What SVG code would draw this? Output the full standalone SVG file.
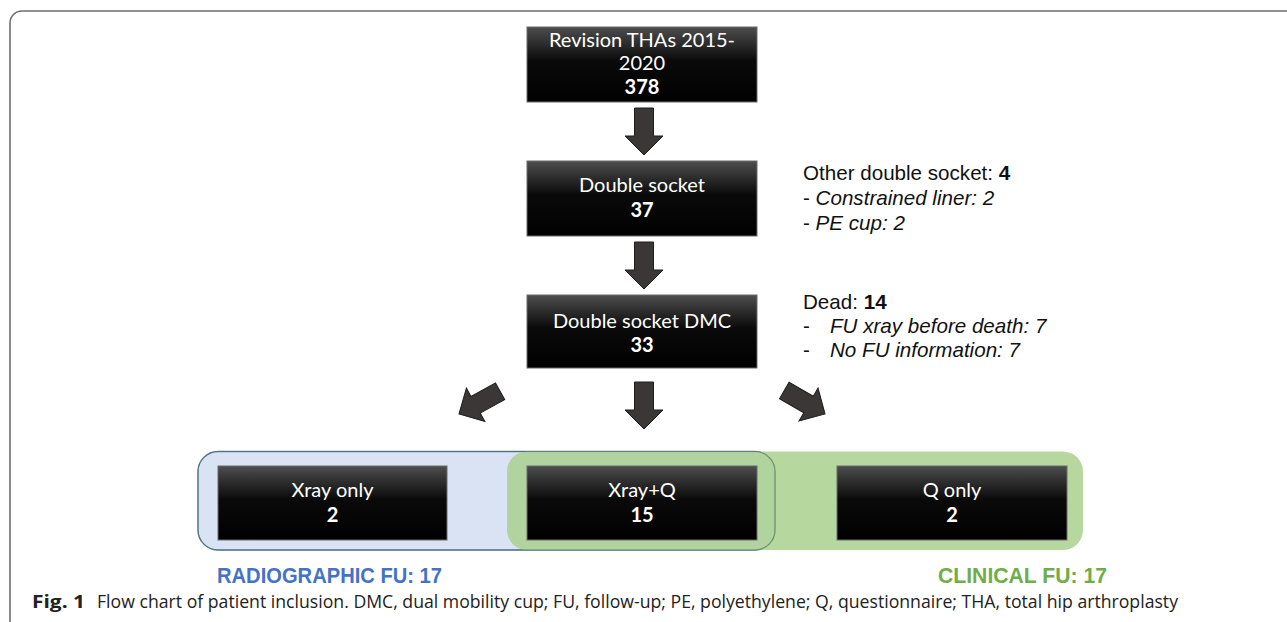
<svg xmlns="http://www.w3.org/2000/svg" width="1287" height="622" viewBox="0 0 1287 622">
<style>
.box{fill:url(#bg);stroke:#6a6a6a;stroke-width:1}
.bt{font-family:Lato,"Liberation Sans",sans-serif;font-size:20px;fill:#fff;text-anchor:middle}
.bn{font-weight:bold}
.st{font-family:"Liberation Sans",Arial,sans-serif;font-size:20.6px;fill:#111}
.it{font-style:italic}
.arr{fill:#3a3736;stroke:#1f1d1c;stroke-width:1}
.lab{font-family:"Liberation Sans",Arial,sans-serif;font-weight:bold;font-size:22px}
.cap{font-family:"Open Sans","Liberation Sans",sans-serif;font-size:18px;fill:#222}
</style>
<defs>
<linearGradient id="bg" x1="0" y1="0" x2="0" y2="1">
<stop offset="0" stop-color="#4e4e4e"/>
<stop offset="0.45" stop-color="#0a0a0a"/>
<stop offset="1" stop-color="#000"/>
</linearGradient>
<path id="ar" d="M-9.5,-47 H9.5 V-19 H19 L0,0 L-19,-19 H-9.5 Z"/>
</defs>
<rect x="10" y="11" width="1300" height="640" rx="12" fill="none" stroke="#6e6e6e" stroke-width="1.6"/>

<g id="bands">
<rect x="198" y="451.5" width="577" height="98.5" rx="20" fill="#dae3f3" stroke="#5b7bb0" stroke-width="1.3"/>
<rect x="507" y="451.5" width="576" height="98.5" rx="20" fill="#a9d18e" fill-opacity="0.85"/>
<rect x="198" y="451.5" width="577" height="98.5" rx="20" fill="none" stroke="#4f6f55" stroke-width="1.2" stroke-opacity="0.6"/>
</g>

<g id="connectors">
<use href="#ar" class="arr" transform="translate(644,155)"/>
<use href="#ar" class="arr" transform="translate(644,289)"/>
<use href="#ar" class="arr" transform="translate(644,429)"/>
<use href="#ar" class="arr" transform="translate(459,414) rotate(61)"/>
<use href="#ar" class="arr" transform="translate(825,414) rotate(-60)"/>
</g>

<g id="n1">
<rect class="box" x="527" y="27" width="230" height="75"/>
<text class="bt" x="642" y="47">Revision THAs 2015-</text>
<text class="bt" x="642" y="70">2020</text>
<text class="bt bn" x="642" y="94">378</text>
</g>
<g id="n2">
<rect class="box" x="527" y="161" width="230" height="75"/>
<text class="bt" x="642" y="192">Double socket</text>
<text class="bt bn" x="642" y="217">37</text>
</g>
<g id="n3">
<rect class="box" x="527" y="295" width="230" height="73"/>
<text class="bt" x="642" y="328">Double socket DMC</text>
<text class="bt bn" x="642" y="352">33</text>
</g>
<g id="n4">
<rect class="box" x="218" y="466" width="229" height="74"/>
<text class="bt" x="332.5" y="497">Xray only</text>
<text class="bt bn" x="332.5" y="522">2</text>
</g>
<g id="n5">
<rect class="box" x="527" y="466" width="230" height="74"/>
<text class="bt" x="642" y="497">Xray+Q</text>
<text class="bt bn" x="642" y="522">15</text>
</g>
<g id="n6">
<rect class="box" x="837" y="466" width="230" height="74"/>
<text class="bt" x="952" y="497">Q only</text>
<text class="bt bn" x="952" y="522">2</text>
</g>

<g id="note1">
<text class="st" x="803" y="180">Other double socket: <tspan font-weight="bold">4</tspan></text>
<text class="st" x="803" y="205">- <tspan class="it">Constrained liner: 2</tspan></text>
<text class="st" x="803" y="230">- <tspan class="it">PE cup: 2</tspan></text>
</g>
<g id="note2">
<text class="st" x="803" y="309">Dead: <tspan font-weight="bold">14</tspan></text>
<text class="st" x="803" y="333">-</text>
<text class="st it" x="830" y="333">FU xray before death: 7</text>
<text class="st" x="803" y="357">-</text>
<text class="st it" x="830" y="357">No FU information: 7</text>
</g>

<text class="lab" x="217" y="583" fill="#4472c4" textLength="225" lengthAdjust="spacingAndGlyphs">RADIOGRAPHIC FU: 17</text>
<text class="lab" x="938" y="583" fill="#70ad47" textLength="169" lengthAdjust="spacingAndGlyphs">CLINICAL FU: 17</text>

<text class="cap" x="32" y="608" font-weight="bold" textLength="53" lengthAdjust="spacingAndGlyphs">Fig. 1</text>
<text class="cap" x="97" y="608" textLength="1081" lengthAdjust="spacingAndGlyphs">Flow chart of patient inclusion. DMC, dual mobility cup; FU, follow-up; PE, polyethylene; Q, questionnaire; THA, total hip arthroplasty</text>
</svg>
